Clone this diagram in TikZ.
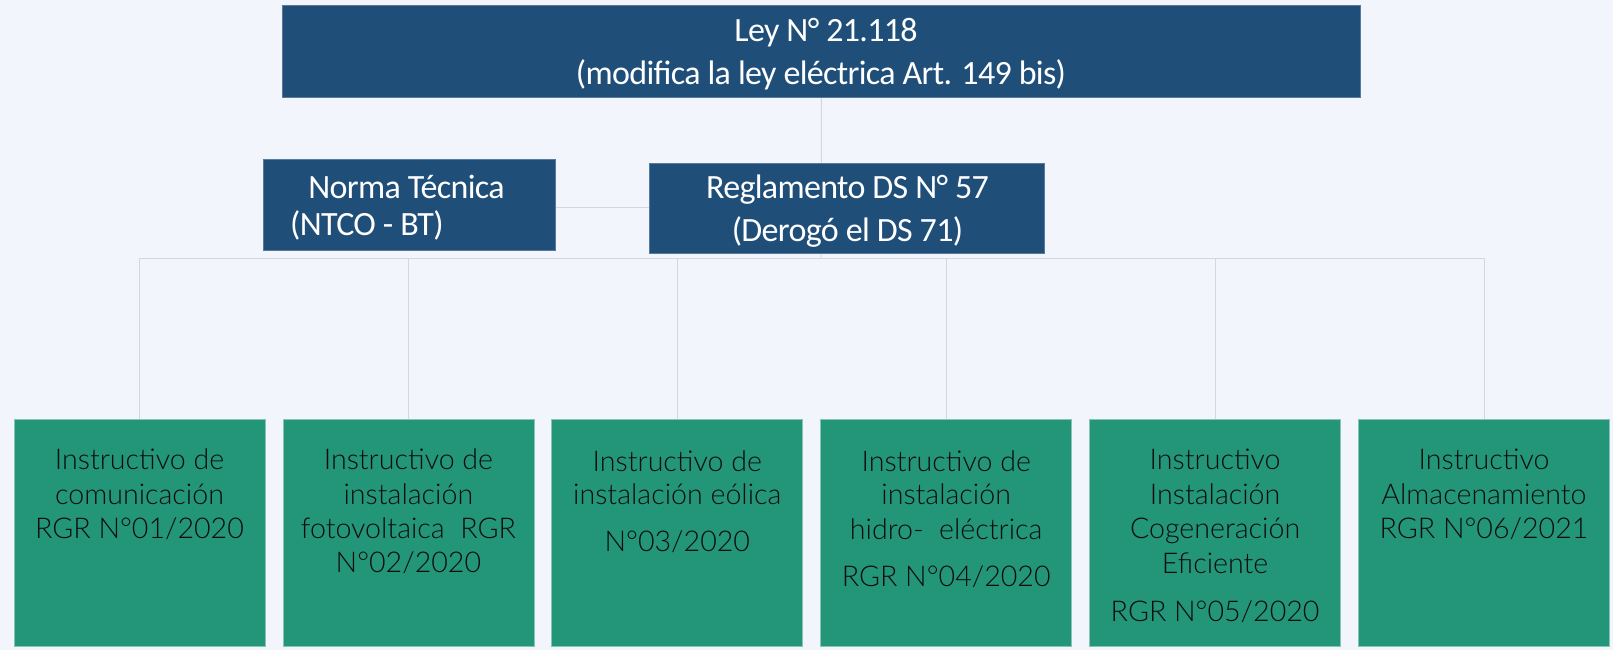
\documentclass[tikz,border=0pt]{standalone}
\usepackage{fontspec}
\newfontfamily\hdfont{Carlito}[LetterSpace=-2]
\newfontfamily\bxfont{Lato}[UprightFont={* Light}]
\definecolor{bgc}{HTML}{F2F5FC}
\definecolor{navy}{HTML}{1F4E79}
\definecolor{teal2}{HTML}{23967A}
\definecolor{linec}{HTML}{D4D8DE}
\pgfdeclarelayer{bg}
\pgfsetlayers{bg,main}
\begin{document}
\begin{tikzpicture}[x=1pt,y=-1pt,
  bluebox/.style={rectangle, fill=navy, draw=navy!75!white, line width=0.8pt, inner sep=0pt, anchor=north west},
  greenbox/.style={rectangle, fill=teal2, draw=teal2!55!white, line width=0.8pt, inner sep=0pt, anchor=north, minimum width=251pt, minimum height=227pt},
  conn/.style={draw=linec, line width=1pt},
  htext/.style={text=white, font=\hdfont\fontsize{34}{40}\selectfont, inner sep=0pt, anchor=base},
  btext/.style={text=black!95, font=\bxfont\fontsize{28.6}{35}\selectfont, inner sep=0pt, anchor=base}]

\useasboundingbox (0,0) rectangle (1613,650);

% boxes
\node[bluebox, minimum width=1078pt, minimum height=92pt] (ley) at (282,5) {};
\node[bluebox, minimum width=292pt, minimum height=91pt] (norma) at (263,159) {};
\node[bluebox, minimum width=395pt, minimum height=90pt] (regl) at (649,163) {};

\node[greenbox] (g1) at (139.5,419) {};
\node[greenbox] (g2) at (408.4,419) {};
\node[greenbox] (g3) at (677.3,419) {};
\node[greenbox] (g4) at (946.2,419) {};
\node[greenbox] (g5) at (1215.1,419) {};
\node[greenbox] (g6) at (1484,419) {};

% connectors (behind)
\coordinate (busL) at (139.5,258);
\coordinate (busR) at (1484,258);
\coordinate (busM) at (821,258);
\coordinate (nj) at (821,207);
\coordinate (ne) at (555,207);
\begin{pgfonlayer}{bg}
  \fill[bgc] (0,0) rectangle (1613,650);
  \draw[conn] (ley.south) -- (busM);
  \draw[conn] (ne) -- (nj);
  \draw[conn] (busL) -- (busR);
  \foreach \g in {g1,g2,g3,g4,g5,g6}{
    \draw[conn] (\g.north) -- (\g.north |- busM);
  }
\end{pgfonlayer}

% top texts
\node[htext] (t1) at (826,42) {Ley N° 21.118};
\node[htext] (t2) at (821,85) {(modifica la ley eléctrica Art. 149 bis)};
\node[htext] (n1) at (406.5,198) {Norma Técnica};
\node[htext, anchor=base west] (n2) at (290,235) {(NTCO - BT)};
\node[htext] (r1) at (847.5,198) {Reglamento DS N° 57};
\node[htext] (r2) at (847.5,241) {(Derogó el DS 71)};

% bottom texts
\node[btext] (a1) at (139.5,469) {Instructivo de};
\node[btext] (a2) at (139.5,504) {comunicación};
\node[btext] (a3) at (139.5,538) {RGR N°01/2020};

\node[btext] (b1) at (408.4,469) {Instructivo de};
\node[btext] (b2) at (408.4,504) {instalación};
\node[btext] (b3) at (408.4,538) {fotovoltaica\ \ RGR};
\node[btext] (b4) at (408.4,572) {N°02/2020};

\node[btext] (c1) at (677.3,471) {Instructivo de};
\node[btext] (c2) at (677.3,504) {instalación eólica};
\node[btext] (c3) at (677.3,551) {N°03/2020};

\node[btext] (d1) at (946.2,471) {Instructivo de};
\node[btext] (d2) at (946.2,504) {instalación};
\node[btext] (d3) at (946.2,539) {hidro-\ \ eléctrica};
\node[btext] (d4) at (946.2,586) {RGR N°04/2020};

\node[btext] (e1) at (1215.1,469) {Instructivo};
\node[btext] (e2) at (1215.1,504) {Instalación};
\node[btext] (e3) at (1215.1,538) {Cogeneración};
\node[btext] (e4) at (1215.1,573) {Eficiente};
\node[btext] (e5) at (1215.1,621) {RGR N°05/2020};

\node[btext] (f1) at (1484,469) {Instructivo};
\node[btext] (f2) at (1484,504) {Almacenamiento};
\node[btext] (f3) at (1484,538) {RGR N°06/2021};
\end{tikzpicture}
\end{document}
